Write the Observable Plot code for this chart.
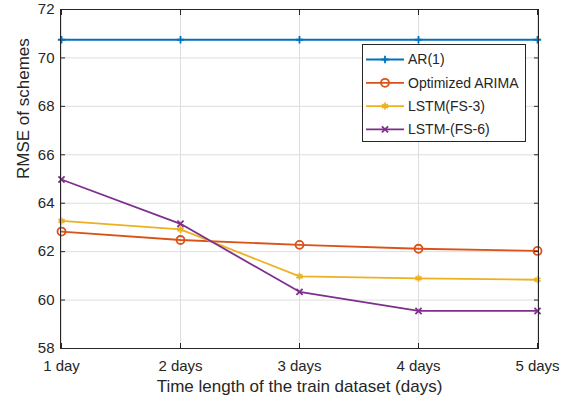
<!DOCTYPE html>
<html><head><meta charset="utf-8">
<script src="https://cdn.jsdelivr.net/npm/d3@7"></script>
<script src="https://cdn.jsdelivr.net/npm/@observablehq/plot@0.6"></script>
<style>
body{margin:0;background:#fff;font-family:"Liberation Sans",Arial,Helvetica,sans-serif;}
#wrap{position:relative;width:576px;height:402px;}
#legend{position:absolute;left:362px;top:44px;}
</style></head><body><div id="wrap"></div>
<script>
const days = ["1 day","2 days","3 days","4 days","5 days"];
const seriesNames = ["AR(1)","Optimized ARIMA","LSTM(FS-3)","LSTM-(FS-6)"];
const ar1   = [70.75,70.75,70.75,70.75,70.75];
const arima = [62.83,62.48,62.28,62.12,62.03];
const lstm3 = [63.27,62.92,60.98,60.90,60.84];
const lstm6 = [64.98,63.15,60.34,59.55,59.55];
const colors = ["#0072BD","#D95319","#EDB120","#7E2F8E"];
const symbols = ["plus","circle","asterisk","times"];
const markerR = [2.5,4,3.3,2.9];
const yTicks = [58,60,62,64,66,68,70,72];
const xTitle = "Time length of the train dataset (days)";
const yTitle = "RMSE of schemes";

const seriesValues = [ar1, arima, lstm3, lstm6];
const data = [];
seriesNames.forEach((s, i) => days.forEach((d, j) => data.push({series: s, day: d, value: seriesValues[i][j], r: markerR[i], filled: symbols[i] === "asterisk"})));

const font = "'Liberation Sans', Arial, Helvetica, sans-serif";
const ink = "#262626";

const chart = Plot.plot({
  width: 576, height: 402,
  marginLeft: 60, marginRight: 38, marginTop: 9, marginBottom: 54,
  style: {fontFamily: font, fontSize: "15px", color: ink, background: "white"},
  x: {type: "point", domain: days, padding: 0, label: null},
  y: {domain: [58, 72], label: null},
  color: {domain: seriesNames, range: colors},
  symbol: {domain: seriesNames, range: symbols},
  r: {type: "identity"},
  marks: [
    Plot.gridX(days, {stroke: "#dedede", strokeOpacity: 1}),
    Plot.gridY(yTicks, {stroke: "#dedede", strokeOpacity: 1}),
    Plot.lineY(data, {x: "day", y: "value", stroke: "series", strokeWidth: 1.8}),
    Plot.dot(data, {x: "day", y: "value", stroke: "series", fill: d => d.filled ? colors[2] : "none", symbol: "series", r: "r", strokeWidth: 1.8}),
    Plot.axisX(days, {anchor: "bottom", tickSize: 0, tickPadding: 12, label: null, fontSize: 15}),
    Plot.axisY(yTicks, {anchor: "left", tickSize: 0, tickPadding: 6, label: null, fontSize: 15}),
    Plot.axisX(days, {anchor: "bottom", tickSize: -5, text: null, label: null, stroke: ink}),
    Plot.axisX(days, {anchor: "top", tickSize: -5, text: null, label: null, stroke: ink}),
    Plot.axisY(yTicks, {anchor: "left", tickSize: -5, text: null, label: null, stroke: ink}),
    Plot.axisY(yTicks, {anchor: "right", tickSize: -5, text: null, label: null, stroke: ink}),
    Plot.frame({stroke: ink, strokeWidth: 1}),
    Plot.text([xTitle], {frameAnchor: "bottom", dy: 38, fontSize: 17, fill: ink, lineAnchor: "middle"}),
    Plot.text([yTitle], {frameAnchor: "left", dx: -37, dy: 0, rotate: -90, fontSize: 17, fill: ink, lineAnchor: "middle"})
  ]
});
const wrap = document.getElementById("wrap");
wrap.appendChild(chart);

// legend
const lg = document.createElement("div");
lg.id = "legend";
const lw = 164, lh = 98, rowH = 23.3, row0 = 15.5;
const svg = d3.create("svg").attr("width", lw).attr("height", lh).style("display", "block");
svg.append("rect").attr("x", 0.5).attr("y", 0.5).attr("width", lw - 1).attr("height", lh - 1).attr("fill", "white").attr("stroke", ink);
const symFns = {plus: d3.symbolPlus, circle: d3.symbolCircle, asterisk: d3.symbolAsterisk, times: d3.symbolTimes};
seriesNames.forEach((s, i) => {
  const y = row0 + i * rowH;
  svg.append("line").attr("x1", 4).attr("x2", 42).attr("y1", y).attr("y2", y).attr("stroke", colors[i]).attr("stroke-width", 1.8);
  svg.append("path").attr("transform", `translate(23,${y})`)
    .attr("d", d3.symbol(symFns[symbols[i]], markerR[i] * markerR[i] * Math.PI)())
    .attr("fill", symbols[i] === "asterisk" ? colors[i] : "none")
    .attr("stroke", colors[i]).attr("stroke-width", 1.8);
  svg.append("text").attr("x", 46).attr("y", y).attr("dy", "0.35em")
    .attr("font-family", font).attr("font-size", 14).attr("fill", ink).text(s);
});
lg.appendChild(svg.node());
wrap.appendChild(lg);
</script></body></html>
